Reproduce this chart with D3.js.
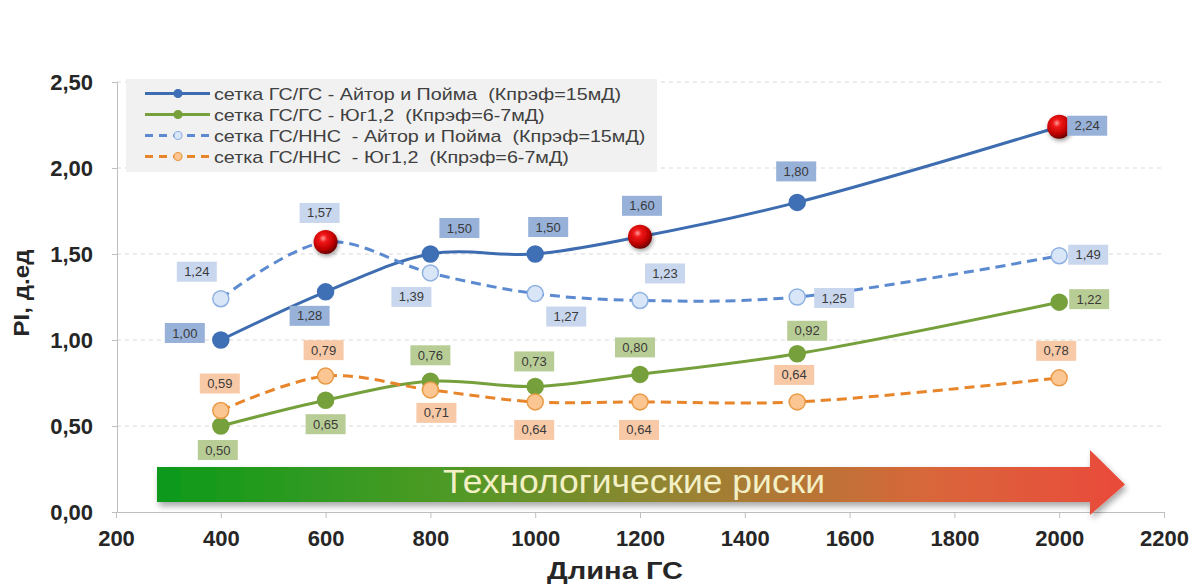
<!DOCTYPE html>
<html>
<head>
<meta charset="utf-8">
<script src="https://cdn.jsdelivr.net/npm/d3@7"></script>
<style>
  html, body { margin: 0; padding: 0; background: #fff; }
  svg { display: block; }
</style>
</head>
<body>
<svg id="chart" width="1195" height="586"></svg>
<script>
// ---- data ----
const lengths = [400, 600, 800, 1000, 1200, 1500, 2000];
const ggAitor = [1.00, 1.28, 1.50, 1.50, 1.60, 1.80, 2.24];
const ggYug   = [0.50, 0.65, 0.76, 0.73, 0.80, 0.92, 1.22];
const gnAitor = [1.24, 1.57, 1.39, 1.27, 1.23, 1.25, 1.49];
const gnYug   = [0.59, 0.79, 0.71, 0.64, 0.64, 0.64, 0.78];
const seriesNames = [
  "сетка ГС/ГС - Айтор и Пойма  (Кпрэф=15мД)",
  "сетка ГС/ГС - Юг1,2  (Кпрэф=6-7мД)",
  "сетка ГС/ННС  - Айтор и Пойма  (Кпрэф=15мД)",
  "сетка ГС/ННС  - Юг1,2  (Кпрэф=6-7мД)"
];
const xTicks = [200, 400, 600, 800, 1000, 1200, 1400, 1600, 1800, 2000, 2200];
const yTicks = [0, 0.5, 1.0, 1.5, 2.0, 2.5];
// highlighted optimum points: [series index, point index]
const highlights = [[0, 4], [0, 6], [2, 1]];
const arrowText = "Технологические риски";

// ---- label placement (pixel offsets from each point) ----
const labelOffsets = [
  [[-36,-7],[-16,24],[29,-26],[13,-27],[2,-31],[-1,-31],[28,-1]],
  [[-3,24],[0,24],[0,-26],[-1,-25],[-5,-27],[10,-23],[30,-3]],
  [[-24,-27],[-6,-29],[-19,24],[31,23],[25,-27],[37,1],[29,-1]],
  [[-1,-27],[-2,-26],[6,23],[-1,28],[-1,28],[-3,-27],[-3,-27]]
];

const styles = [
  { line: "#3d6db0", dash: null, mFill: "#3f6fb5", mStroke: "#3f6fb5", lbl: "#97b1d9" },
  { line: "#76a03b", dash: null, mFill: "#76a03b", mStroke: "#76a03b", lbl: "#b8cd95" },
  { line: "#5c8ad0", dash: "10,6", mFill: "#d9e6f8", mStroke: "#8fb1e2", lbl: "#c8d7ed" },
  { line: "#e8842a", dash: "10,6", mFill: "#fcc692", mStroke: "#ea9a45", lbl: "#f8c9a6" }
];
const allSeries = [ggAitor, ggYug, gnAitor, gnYug];

const FONT = "Liberation Sans, Arial, sans-serif";
const svg = d3.select("#chart");
const x = d3.scaleLinear().domain([200, 2200]).range([116, 1164]);
const y = d3.scaleLinear().domain([0, 2.5]).range([512, 82]);
const fmt = v => d3.format(".2f")(v).replace(".", ",");

const defs = svg.append("defs");
// gradient for the risk arrow
const ag = defs.append("linearGradient").attr("id", "arrowGrad")
  .attr("x1", "0%").attr("x2", "100%");
[["0%", "#0c9a1b"], ["30%", "#4e9a25"], ["55%", "#9a8232"], ["80%", "#d9663a"], ["100%", "#ea4a3a"]]
  .forEach(([o, c]) => ag.append("stop").attr("offset", o).attr("stop-color", c));
const sh = defs.append("filter").attr("id", "shadow").attr("x", "-5%").attr("y", "-30%").attr("width", "110%").attr("height", "170%");
sh.append("feGaussianBlur").attr("in", "SourceAlpha").attr("stdDeviation", 3);
sh.append("feOffset").attr("dx", 2).attr("dy", 4).attr("result", "b");
sh.append("feComponentTransfer").append("feFuncA").attr("type", "linear").attr("slope", 0.35);
const m = sh.append("feMerge"); m.append("feMergeNode"); m.append("feMergeNode").attr("in", "SourceGraphic");
// glossy red sphere
const rg = defs.append("radialGradient").attr("id", "sphere")
  .attr("cx", "40%").attr("cy", "35%").attr("r", "65%");
[["0%", "#ff9a9a"], ["25%", "#f01818"], ["70%", "#c00000"], ["100%", "#6a0000"]]
  .forEach(([o, c]) => rg.append("stop").attr("offset", o).attr("stop-color", c));
const ss = defs.append("filter").attr("id", "sphShadow").attr("x", "-50%").attr("y", "-50%").attr("width", "200%").attr("height", "200%");
ss.append("feDropShadow").attr("dx", 1).attr("dy", 2).attr("stdDeviation", 2).attr("flood-opacity", 0.4);

// ---- grid ----
svg.append("g").selectAll("line").data(yTicks.filter(t => t > 0)).join("line")
  .attr("x1", 117).attr("x2", 1164)
  .attr("y1", d => y(d)).attr("y2", d => y(d))
  .attr("stroke", "#d9d9d9").attr("stroke-width", 1).attr("stroke-dasharray", "4,4");

// ---- axes ----
const yAxis = svg.append("g").attr("transform", "translate(117,0)")
  .call(d3.axisLeft(y).tickValues(yTicks).tickFormat(fmt).tickSize(5).tickPadding(19));
const xAxis = svg.append("g").attr("transform", "translate(0,512)")
  .call(d3.axisBottom(x).tickValues(xTicks).tickFormat(d => d).tickSize(6).tickPadding(12));
[yAxis, xAxis].forEach(a => {
  a.select(".domain").attr("stroke", "#bfbfbf");
  a.selectAll(".tick line").attr("stroke", "#bfbfbf");
  a.selectAll("text").attr("font-family", FONT)
    .attr("font-size", 22).attr("font-weight", "bold").attr("fill", "#262626");
});

svg.append("text").attr("x", 615).attr("y", 579).attr("text-anchor", "middle")
  .attr("font-family", FONT).attr("font-size", 24).attr("textLength", 136).attr("lengthAdjust", "spacingAndGlyphs")
  .attr("font-weight", "bold").attr("fill", "#262626").text("Длина ГС");
svg.append("text").attr("transform", "translate(29,293) rotate(-90)").attr("text-anchor", "middle")
  .attr("font-family", FONT).attr("font-size", 22).attr("textLength", 87).attr("lengthAdjust", "spacingAndGlyphs")
  .attr("font-weight", "bold").attr("fill", "#262626").text("PI, д.ед");

// ---- risk arrow ----
const ax0 = 157, ax1 = 1090, tip = 1125, aTop = 467, aBot = 502, hTop = 450, hBot = 515;
svg.append("path")
  .attr("d", `M${ax0},${aTop} L${ax1},${aTop} L${ax1},${hTop} L${tip},${(aTop + aBot) / 2} L${ax1},${hBot} L${ax1},${aBot} L${ax0},${aBot} Z`)
  .attr("fill", "url(#arrowGrad)").attr("filter", "url(#shadow)");
svg.append("text").attr("x", 634).attr("y", 493).attr("text-anchor", "middle")
  .attr("font-family", FONT).attr("font-size", 33)
  .attr("textLength", 382).attr("lengthAdjust", "spacingAndGlyphs")
  .attr("fill", "#f3f0c6").text(arrowText);

// ---- series ----
const line = d3.line().x((d, i) => x(lengths[i])).y(d => y(d)).curve(d3.curveCatmullRom.alpha(0.5));
const plot = svg.append("g");
allSeries.forEach((vals, s) => {
  const st = styles[s];
  plot.append("path").datum(vals).attr("d", line)
    .attr("fill", "none").attr("stroke", st.line).attr("stroke-width", 3)
    .attr("stroke-dasharray", st.dash);
});
allSeries.forEach((vals, s) => {
  const st = styles[s];
  plot.append("g").selectAll("circle").data(vals).join("circle")
    .attr("cx", (d, i) => x(lengths[i])).attr("cy", d => y(d)).attr("r", 8)
    .attr("fill", st.mFill).attr("stroke", st.mStroke).attr("stroke-width", 1.5);
});
highlights.forEach(([s, i]) => {
  plot.append("circle").attr("cx", x(lengths[i])).attr("cy", y(allSeries[s][i])).attr("r", 12)
    .attr("fill", "url(#sphere)").attr("filter", "url(#sphShadow)");
});

// ---- data labels ----
allSeries.forEach((vals, s) => {
  const st = styles[s];
  const g = plot.append("g");
  vals.forEach((v, i) => {
    const [dx, dy] = labelOffsets[s][i];
    const cx = x(lengths[i]) + dx, cy = y(v) + dy;
    g.append("rect").attr("x", cx - 20).attr("y", cy - 10).attr("width", 40).attr("height", 20)
      .attr("fill", st.lbl);
    g.append("text").attr("x", cx).attr("y", cy + 4.5).attr("text-anchor", "middle")
      .attr("font-family", FONT).attr("font-size", 13)
      .attr("fill", "#3a3a3a").text(fmt(v));
  });
});

// ---- legend ----
const lg = svg.append("g");
lg.append("rect").attr("x", 126).attr("y", 79).attr("width", 531).attr("height", 93)
  .attr("fill", "#f1f1f1");
seriesNames.forEach((name, s) => {
  const st = styles[s];
  const ly = 93.5 + s * 21;
  lg.append("line").attr("x1", 145).attr("x2", 210).attr("y1", ly).attr("y2", ly)
    .attr("stroke", st.line).attr("stroke-width", 3).attr("stroke-dasharray", st.dash ? "8,6" : null);
  lg.append("circle").attr("cx", 178).attr("cy", ly).attr("r", 4)
    .attr("fill", st.mFill).attr("stroke", st.mStroke).attr("stroke-width", 1.2);
  lg.append("text").attr("transform", `translate(214,${ly + 6}) scale(1.16,1)`)
    .attr("font-family", FONT).attr("font-size", 17)
    .attr("fill", "#404040").style("white-space", "pre").text(name);
});
</script>
</body>
</html>
